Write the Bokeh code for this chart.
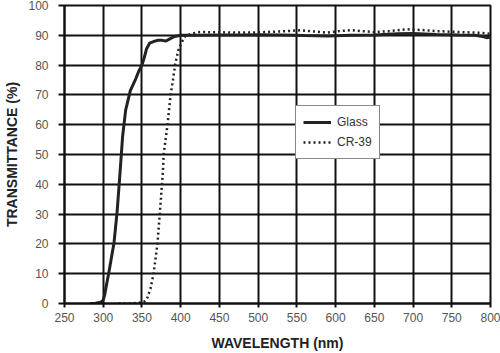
from bokeh.plotting import figure
from bokeh.models import Legend, LegendItem, FixedTicker, Range1d
from bokeh.embed import file_html
from bokeh.resources import INLINE

glass_wl = [283, 290, 295, 298, 300, 302, 304, 307, 310, 314, 318, 322, 325, 329, 335, 342, 346, 350,
            353, 356, 360, 365, 370, 376, 381, 386, 392, 400, 420, 450, 480, 500, 530, 560, 590, 620, 650,
            680, 700, 730, 760, 780, 790, 795, 800]
glass_t = [0, 0.1, 0.3, 0.6, 1.2, 3, 6, 10, 14.5, 20.5, 31, 45, 56, 65, 71.4, 75.4, 78, 80,
           82.5, 85.5, 87.4, 87.9, 88.3, 88.3, 88.1, 88.8, 89.6, 90, 90, 90.1, 90.1, 90.2, 90.1, 89.9, 89.8, 90, 90.1,
           90.5, 90.6, 90.3, 90.1, 90, 89.6, 89.2, 89.4]

cr39_wl = [320, 330, 340, 348, 352, 355, 357, 361, 365, 370, 373, 377, 378, 383, 387, 390, 393, 397, 402,
           406, 415, 425, 450, 480, 500, 530, 555, 575, 590, 605, 620, 650, 670, 692, 710, 730, 750, 770,
           790, 800]
cr39_t = [0, 0, 0.1, 0.3, 0.5, 1, 2, 5, 10, 20, 30, 44, 50, 60, 70, 75, 80.4, 85, 88,
          89.8, 90.6, 91.1, 91, 90.9, 91, 91.3, 91.7, 91.2, 90.9, 91.4, 91.7, 91.1, 91.4, 92, 91.8, 91.4, 91.2, 91,
          90.8, 90.5]

x_ticks = list(range(250, 801, 50))
y_ticks = list(range(0, 101, 10))

p = figure(width=500, height=353, output_backend="svg", toolbar_location=None,
           x_range=Range1d(250, 800), y_range=Range1d(0, 100),
           min_border_left=64, min_border_right=10, min_border_top=5, min_border_bottom=50)
p.background_fill_color = "white"
p.border_fill_color = "white"
p.outline_line_color = "#111111"
p.outline_line_width = 2

p.xaxis.ticker = FixedTicker(ticks=x_ticks)
p.yaxis.ticker = FixedTicker(ticks=y_ticks)
p.xgrid.ticker = FixedTicker(ticks=x_ticks)
p.ygrid.ticker = FixedTicker(ticks=y_ticks)
for g in (p.xgrid, p.ygrid):
    g.grid_line_color = "#111111"
    g.grid_line_width = 2
    g.grid_line_alpha = 1

for ax in (p.xaxis, p.yaxis):
    ax.axis_line_color = "#111111"
    ax.axis_line_width = 2
    ax.major_tick_line_color = "#111111"
    ax.major_tick_line_width = 2
    ax.minor_tick_line_color = None
    ax.major_tick_in = 0
    ax.major_label_text_font = "Liberation Sans"
    ax.major_label_text_font_size = "12px"
    ax.major_label_text_color = "#555555"
    ax.axis_label_text_font = "Liberation Sans"
    ax.axis_label_text_font_size = "14px"
    ax.axis_label_text_font_style = "bold"
    ax.axis_label_text_color = "#222222"

p.xaxis.major_tick_out = 4
p.yaxis.major_tick_out = 6
p.xaxis.major_label_standoff = 5
p.yaxis.major_label_standoff = 10
p.xaxis.axis_label = "WAVELENGTH (nm)"
p.yaxis.axis_label = "TRANSMITTANCE (%)"
p.xaxis.axis_label_standoff = 10
p.yaxis.axis_label_standoff = 5

r1 = p.line(glass_wl, glass_t, line_color="#222222", line_width=3)
r2 = p.line(cr39_wl, cr39_t, line_color="#222222", line_width=2.5, line_dash="2 3")

legend = Legend(items=[LegendItem(label="Glass", renderers=[r1]),
                       LegendItem(label="CR-39", renderers=[r2])],
                location=(231, 144))
legend.margin = 0
legend.padding = 7
legend.spacing = 2
legend.glyph_width = 28
legend.glyph_height = 18
legend.label_height = 18
legend.label_standoff = 6
legend.label_text_font = "Liberation Sans"
legend.label_text_font_size = "12px"
legend.label_text_color = "#333333"
legend.border_line_color = "#111111"
legend.border_line_width = 1.5
legend.background_fill_color = "white"
legend.background_fill_alpha = 1
p.add_layout(legend, "center")

open("out.html", "w").write(file_html(p, INLINE))
